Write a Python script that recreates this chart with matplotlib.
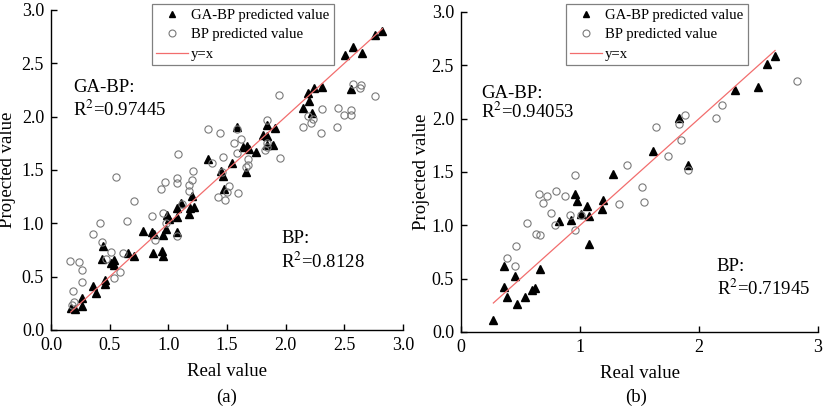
import matplotlib
matplotlib.use("Agg")
import matplotlib.pyplot as plt
from matplotlib.lines import Line2D

plt.rcParams['font.family'] = ['Liberation Serif', 'DejaVu Serif']
plt.rcParams['mathtext.fontset'] = 'stix'

# ---------------- data: panel (a) ----------------
a_ga_real = [0.168, 0.204, 0.267, 0.267, 0.355, 0.383, 0.46, 0.46, 0.445, 0.432,
             0.511, 0.537, 0.539, 0.658, 0.707, 0.786, 0.866, 0.858, 0.880, 0.943,
             0.957, 0.957, 0.980, 0.986, 1.008, 1.071, 1.076, 1.076, 1.107, 1.178,
             1.198, 1.184, 1.218, 1.340, 1.448, 1.463, 1.474, 1.539, 1.587, 1.638,
             1.658, 1.672, 1.687, 1.744, 1.808, 1.837, 1.837, 1.842, 1.888, 1.908,
             2.149, 2.192, 2.198, 2.226, 2.240, 2.306, 2.504, 2.553, 2.575, 2.647,
             2.760, 2.825]
a_ga_pred = [0.203, 0.197, 0.225, 0.303, 0.415, 0.344, 0.469, 0.428, 0.787, 0.663,
             0.625, 0.656, 0.609, 0.719, 0.694, 0.928, 0.719, 0.921, 0.900, 0.740,
             0.694, 0.890, 0.944, 1.078, 1.037, 0.921, 1.141, 1.062, 1.193, 1.087,
             1.256, 1.141, 1.156, 1.600, 1.490, 1.443, 1.319, 1.568, 1.905, 1.718,
             1.484, 1.724, 1.694, 1.671, 1.828, 1.921, 1.734, 1.818, 1.734, 1.890,
             2.078, 2.224, 2.149, 2.037, 2.265, 2.280, 2.577, 2.256, 2.655, 2.593,
             2.765, 2.805]
a_bp_real = [0.162, 0.239, 0.261, 0.267, 0.190, 0.196, 0.176, 0.355, 0.417, 0.437,
             0.468, 0.508, 0.537, 0.588, 0.611, 0.650, 0.710, 0.554, 0.858, 0.886,
             0.951, 0.980, 1.071, 0.937, 0.971, 1.076, 1.076, 1.113, 1.178, 1.198,
             1.212, 1.425, 1.482, 1.497, 1.516, 1.590, 1.454, 1.340, 1.440, 1.582,
             1.616, 1.561, 1.582, 1.463, 1.369, 1.079, 1.837, 1.837, 1.823, 1.681,
             1.681, 1.661, 1.951, 1.178, 1.940, 2.575, 2.641, 2.632, 2.760, 2.306,
             2.442, 2.561, 2.498, 2.553, 2.192, 2.234, 2.220, 2.149, 2.300, 2.439,
             1.837]
a_bp_pred = [0.647, 0.634, 0.562, 0.453, 0.369, 0.265, 0.234, 0.897, 1.000, 0.828,
             0.663, 0.734, 0.485, 0.547, 0.719, 1.025, 1.209, 1.431, 1.071, 0.843,
             1.093, 1.006, 0.881, 1.318, 1.384, 1.375, 1.427, 1.181, 1.359, 1.406,
             1.490, 1.244, 1.218, 1.296, 1.352, 1.281, 1.484, 1.884, 1.849, 1.884,
             1.790, 1.750, 1.656, 1.624, 1.568, 1.647, 1.968, 1.718, 1.687, 1.600,
             1.546, 1.531, 1.609, 1.306, 2.202, 2.306, 2.296, 2.265, 2.196, 2.071,
             2.078, 2.062, 2.015, 2.015, 2.006, 1.975, 1.943, 1.900, 1.843, 1.900,
             1.750]

# ---------------- data: panel (b) ----------------
b_ga_real = [0.272, 0.468, 0.389, 0.538, 0.594, 0.622, 0.364, 0.454, 0.361, 0.664,
             1.076, 0.826, 0.922, 0.958, 0.972, 1.056, 1.078, 1.191, 1.182, 1.006,
             1.280, 1.616, 1.834, 1.910, 2.303, 2.498, 2.574, 2.639]
b_ga_pred = [0.112, 0.262, 0.330, 0.324, 0.393, 0.408, 0.423, 0.523, 0.617, 0.586,
             0.822, 1.037, 1.053, 1.296, 1.227, 1.178, 1.084, 1.234, 1.156, 1.109,
             1.483, 1.695, 2.003, 1.561, 2.268, 2.293, 2.511, 2.589]
b_bp_real = [0.658, 0.725, 0.798, 0.874, 0.687, 0.756, 0.552, 0.628, 0.664, 0.790,
             0.916, 1.008, 0.958, 0.462, 0.389, 0.454, 0.958, 1.328, 1.518, 1.540,
             1.392, 1.737, 1.639, 1.849, 1.834, 1.882, 1.910, 2.143, 2.196, 2.821]
b_bp_pred = [1.290, 1.274, 1.318, 1.274, 1.212, 1.115, 1.025, 0.922, 0.907, 1.006,
             1.093, 1.100, 0.953, 0.807, 0.695, 0.617, 1.474, 1.203, 1.358, 1.218,
             1.561, 1.648, 1.919, 1.804, 1.950, 2.035, 1.523, 2.003, 2.128, 2.355]

a_ticks = [0.0, 0.5, 1.0, 1.5, 2.0, 2.5, 3.0]
a_xticklabels = ['0.0', '0.5', '1.0', '1.5', '2.0', '2.5', '3.0']
b_xticks = [0, 1, 2, 3]
b_xticklabels = ['0', '1', '2', '3']
yticklabels = ['0.0', '0.5', '1.0', '1.5', '2.0', '2.5', '3.0']

legend_labels = ['GA-BP predicted value', 'BP predicted value', 'y=x']
a_texts = ['GA-BP:', r'R$^2$=0.97445', 'BP:', r'R$^2$=0.8128']
b_texts = ['GA-BP:', r'R$^2$=0.94053', 'BP:', r'R$^2$=0.71945']

W, H = 823, 408
fig = plt.figure(figsize=(W / 100, H / 100), dpi=100)

def fx(px):
    return px / W

def fy(py):
    return 1 - py / H

axA = fig.add_axes([fx(51), fy(330), fx(403 - 51), (330 - 10) / H])
axB = fig.add_axes([fx(461), fy(332), fx(818 - 461), (332 - 12) / H])

line_color = '#f26d6d'
circ_color = '#7a7a7a'
tri_ms = 5.6
circ_ms = 5.2

def draw(ax, ga_r, ga_p, bp_r, bp_p, ylab_right_px, axleft, axw):
    ax.plot(ga_r, ga_p, linestyle='none', marker='^', markersize=tri_ms,
            color='black', zorder=3)
    ax.plot(bp_r, bp_p, linestyle='none', marker='o', markersize=circ_ms,
            markerfacecolor='none', markeredgecolor=circ_color,
            markeredgewidth=0.8, zorder=4)
    lo = min(ga_r)
    hi = max(ga_r)
    ax.plot([lo, hi], [lo, hi], color=line_color, linewidth=0.9, zorder=5)
    for s in ['top', 'right']:
        ax.spines[s].set_visible(False)
    for s in ['left', 'bottom']:
        ax.spines[s].set_linewidth(1.0)
    ax.tick_params(direction='in', length=4, width=1.0, labelsize=13, pad=5)
    ax.set_ylim(0, 3.0)
    ax.set_yticks(a_ticks)
    ax.set_yticklabels(yticklabels)
    ax.set_xlabel('Real value', fontsize=13.5)
    ax.set_ylabel('Projected value', fontsize=13.5)
    ax.yaxis.set_label_coords((ylab_right_px - axleft) / axw, 0.5)
    ax.xaxis.set_label_coords(0.5, -33 / 320)

draw(axA, a_ga_real, a_ga_pred, a_bp_real, a_bp_pred, 16, 51, 352)
draw(axB, b_ga_real, b_ga_pred, b_bp_real, b_bp_pred, 430, 461, 357)

axA.set_xlim(0, 3.0)
axA.set_xticks(a_ticks)
axA.set_xticklabels(a_xticklabels)
axB.set_xlim(0, 3)
axB.set_xticks(b_xticks)
axB.set_xticklabels(b_xticklabels)

tfs = 13.5
axA.text(0.19, 2.27, a_texts[0], fontsize=tfs, va='center', ha='left')
axA.text(0.19, 2.06, a_texts[1], fontsize=tfs, va='center', ha='left')
axA.text(1.96, 0.86, a_texts[2], fontsize=tfs, va='center', ha='left')
axA.text(1.96, 0.64, a_texts[3], fontsize=tfs, va='center', ha='left')
axB.text(0.17, 2.24, b_texts[0], fontsize=tfs, va='center', ha='left')
axB.text(0.17, 2.06, b_texts[1], fontsize=tfs, va='center', ha='left')
axB.text(2.15, 0.61, b_texts[2], fontsize=tfs, va='center', ha='left')
axB.text(2.15, 0.40, b_texts[3], fontsize=tfs, va='center', ha='left')

handles = [
    Line2D([], [], linestyle='none', marker='^', markersize=5, color='black'),
    Line2D([], [], linestyle='none', marker='o', markersize=5,
           markerfacecolor='none', markeredgecolor=circ_color, markeredgewidth=0.8),
    Line2D([], [], color=line_color, linewidth=0.9),
]
for (lx, ly) in [(152, 4), (566, 4)]:
    leg = fig.legend(handles, legend_labels, loc='upper left',
                     bbox_to_anchor=(fx(lx), fy(ly)), fontsize=10.6,
                     frameon=True, fancybox=False, edgecolor='#808080',
                     framealpha=1, borderpad=0.3, labelspacing=0.42,
                     handlelength=2.15, handletextpad=0.2, borderaxespad=0)
    leg.get_frame().set_linewidth(0.9)

fig.text(fx(227), fy(397), '(a)', fontsize=13.5, ha='center', va='center')
fig.text(fx(636), fy(397), '(b)', fontsize=13.5, ha='center', va='center')

fig.savefig('out.png', dpi=100)
